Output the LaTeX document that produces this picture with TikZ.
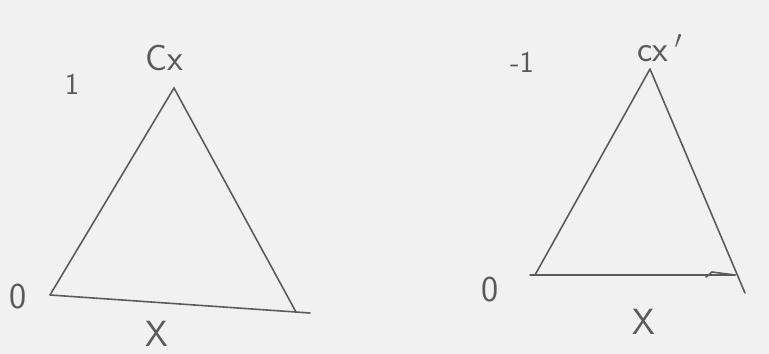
\documentclass[tikz,border=0pt]{standalone}
\usepackage{tikz}
\usepackage{amsmath}
\usepackage{xcolor}
\definecolor{pencil}{HTML}{5A5A5A}
\definecolor{paper}{HTML}{F1F1F1}

\begin{document}
\begin{tikzpicture}[
  x=0.02cm, y=-0.02cm,
  edge/.style={draw=pencil,line width=0.9pt,line cap=round},
  lbl/.style={text=pencil,inner sep=0pt,font=\sffamily\huge},
  big/.style={text=pencil,inner sep=0pt,font=\sffamily\huge}
]
  \fill[paper] (0,0) rectangle (769,354);
  \useasboundingbox (0,0) rectangle (769,354);
  % left cone
  \coordinate (a1) at (174,88);
  \coordinate (b1) at (50,295);
  \coordinate (c1) at (296,312);
  \coordinate (e1) at (310,313);
  \node[lbl] (cx1) at (164,58) {Cx};
  \node[lbl,font=\sffamily\LARGE] (one) at (72,84) {1};
  \node[lbl] (z1) at (18,297) {0};
  \node[big] (x1) at (157,334) {X};
  \draw[edge] (b1) -- (a1) -- (c1);
  \draw[edge] (b1) -- (e1);
  % right cone
  \coordinate (a2) at (650,69);
  \coordinate (b2) at (535,275);
  \coordinate (c2) at (735,275);
  \coordinate (d2) at (745,293);
  \coordinate (h2) at (706,277);
  \node[lbl] (cx2) at (660,48) {cx\,$'$};
  \node[lbl,font=\sffamily\LARGE] (m1) at (522,62) {-1};
  \node[lbl] (z2) at (490,290) {0};
  \node[big] (x2) at (644,322) {X};
  \draw[edge] (a2) -- (b2);
  \draw[edge] (a2) -- (d2);
  \draw[edge] (530,275) -- (c2);
  \draw[edge] (h2) -- (712,272) -- (c2);
\end{tikzpicture}
\end{document}
